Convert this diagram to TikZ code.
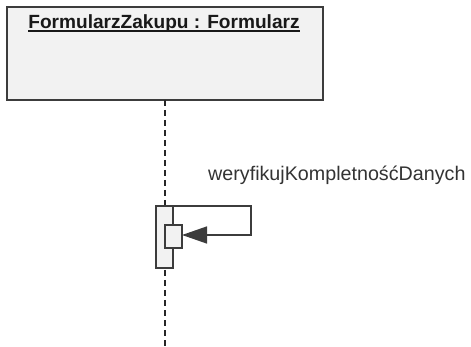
\documentclass[tikz,border=0pt]{standalone}
\usepackage{fontspec}
\setmainfont{Liberation Sans}
\usetikzlibrary{arrows.meta,calc}
\definecolor{edge}{HTML}{3C3C3C}
\definecolor{boxfill}{HTML}{F2F2F2}
\tikzset{
  objbox/.style={draw=edge, fill=boxfill, line width=1.6pt},
  actbox/.style={draw=edge, fill=boxfill, line width=1.4pt},
  lifeline/.style={draw=black!85, line width=1.5pt, dash pattern=on 6pt off 4pt},
  msg/.style={draw=edge, line width=1.4pt, -{Triangle[length=25pt,width=17pt]}},
}
\begin{document}
\begin{tikzpicture}[x=1pt,y=-1pt]
  \useasboundingbox (0,0) rectangle (471,347);
  % object header
  \draw[objbox] (7,7) rectangle (323,100);
  \node[font=\bfseries\fontsize{19.1}{21}\selectfont, inner sep=0pt, text=black!90] (title) at (164,24)
    {FormularzZakupu : Formularz};
  \draw[line width=1.5pt, black!90] ($(title.base west)+(0,2.2)$) -- ($(title.base east)+(0,2.2)$);
  \coordinate (lifetop) at (165,100);
  \coordinate (lifebot) at (165,347);
  % lifeline
  \draw[lifeline] (lifetop) -- (lifebot);
  % activation bars
  \draw[actbox] (156,206) rectangle (173,268);
  \coordinate (actouttop) at (173,206);
  \draw[actbox] (165,225) rectangle (182,248);
  \coordinate (actinright) at (182,235);
  % self message
  \coordinate (c1) at (251,206);
  \coordinate (c2) at (251,235);
  \draw[msg] (actouttop) -- (c1) -- (c2) -- (actinright);
  \node[anchor=west, font=\fontsize{19.7}{21}\selectfont, text=black!80, inner sep=0pt] (label) at (208,175)
    {weryfikujKompletnośćDanych};
\end{tikzpicture}
\end{document}
